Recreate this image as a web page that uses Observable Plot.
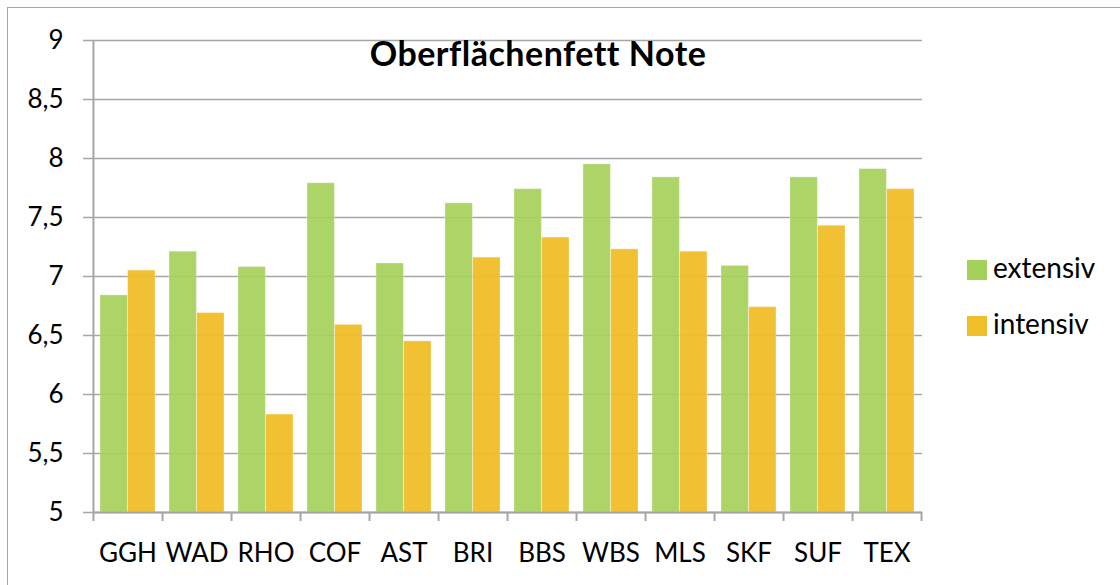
<!DOCTYPE html>
<html>
<head>
<meta charset="utf-8">
<script src="https://cdn.jsdelivr.net/npm/d3@7"></script>
<script src="https://cdn.jsdelivr.net/npm/@observablehq/plot@0.6"></script>
<style>
  html, body { margin: 0; padding: 0; background: #fff; }
  #wrap { position: relative; width: 1120px; height: 585px; overflow: hidden; font-family: Lato, "Open Sans", sans-serif; }
  #border { position: absolute; left: 7px; top: 7px; width: 1300px; height: 800px; border-left: 1.5px solid #a6a6a6; border-top: 1.5px solid #a6a6a6; }
  #chart { position: absolute; left: 0; top: 0; }
  #overlay { position: absolute; left: 0; top: 0; pointer-events: none; }
</style>
</head>
<body>
<div id="wrap">
  <div id="border"></div>
  <div id="chart"></div>
  <svg id="overlay" width="1120" height="585"></svg>
</div>
<script>
// ---- data ----
const categories = ["GGH","WAD","RHO","COF","AST","BRI","BBS","WBS","MLS","SKF","SUF","TEX"];
const extensiv = [6.84, 7.21, 7.08, 7.79, 7.11, 7.62, 7.74, 7.95, 7.84, 7.09, 7.84, 7.91];
const intensiv = [7.05, 6.69, 5.83, 6.59, 6.45, 7.16, 7.33, 7.23, 7.21, 6.74, 7.43, 7.74];
const seriesNames = ["extensiv", "intensiv"];
const yTicks = [5, 5.5, 6, 6.5, 7, 7.5, 8, 8.5, 9];
const titleText = "Oberflächenfett Note";
const seriesColors = ["#a5d05a", "#f0be28"];

// ---- layout ----
const W = 1120, H = 585;
const mL = 93, mR = 198, mT = 40, mB = 73;
const step = (W - mL - mR) / categories.length;
const halfBand = step * 0.8 / 2;
const gridColor = "#a6a6a6";

const rows = categories.flatMap((c, i) => [
  {cat: c, series: seriesNames[0], value: extensiv[i]},
  {cat: c, series: seriesNames[1], value: intensiv[i]}
]);

const fmt = d => String(d).replace(".", ",");

const plot = Plot.plot({
  width: W,
  height: H,
  marginLeft: mL,
  marginRight: mR,
  marginTop: mT,
  marginBottom: mB,
  style: {fontFamily: "Lato, 'Open Sans', sans-serif", color: "#000", background: "transparent", overflow: "visible"},
  x: {type: "band", domain: categories, paddingInner: 0.2, paddingOuter: 0.1, axis: null, label: null},
  y: {domain: [5, 9], axis: null, label: null},
  color: {domain: seriesNames, range: seriesColors},
  marks: [
    Plot.gridY(yTicks, {stroke: gridColor, strokeOpacity: 1, strokeWidth: 1.5}),
    Plot.axisY(yTicks, {tickSize: 10, tickPadding: 20, tickFormat: fmt, stroke: gridColor, strokeWidth: 1.5, fontSize: 26, fill: "#000", label: null}),
    Plot.barY(rows.filter(d => d.series === seriesNames[0]), {
      x: "cat", y1: () => 5, y2: "value", fill: "series", fillOpacity: 0.92,
      insetRight: halfBand, stroke: "#fff", strokeOpacity: 0.3, strokeWidth: 1
    }),
    Plot.barY(rows.filter(d => d.series === seriesNames[1]), {
      x: "cat", y1: () => 5, y2: "value", fill: "series", fillOpacity: 0.95,
      insetLeft: halfBand, stroke: "#fff", strokeOpacity: 0.3, strokeWidth: 1
    }),
    Plot.ruleY([5], {stroke: gridColor, strokeWidth: 2}),
    Plot.ruleX([categories[0]], {x: d => d, dx: -step / 2, stroke: gridColor, strokeWidth: 2, insetBottom: -9}),
    Plot.ruleX(categories, {x: d => d, dx: step / 2, y1: () => 5, y2: () => 5, insetBottom: -9, stroke: gridColor, strokeWidth: 2}),
    Plot.axisX(categories, {tickSize: 0, tickPadding: 31, fontSize: 26, fill: "#000", label: null})
  ]
});
document.getElementById("chart").appendChild(plot);

// ---- title and legend ----
const ov = d3.select("#overlay");
ov.append("text")
  .attr("x", 538).attr("y", 66)
  .attr("text-anchor", "middle")
  .attr("font-family", "Lato, 'Open Sans', sans-serif")
  .attr("font-weight", "bold")
  .attr("font-size", 34)
  .attr("letter-spacing", 0.5)
  .attr("fill", "#000")
  .text(titleText);

const legendY = [260, 316];
seriesNames.forEach((name, i) => {
  ov.append("rect")
    .attr("x", 967).attr("y", legendY[i]).attr("width", 20).attr("height", 20)
    .attr("fill", seriesColors[i]);
  ov.append("text")
    .attr("x", 993).attr("y", legendY[i] + 18)
    .attr("font-family", "Lato, 'Open Sans', sans-serif")
    .attr("font-size", 28)
    .attr("fill", "#000")
    .text(name);
});
</script>
</body>
</html>
